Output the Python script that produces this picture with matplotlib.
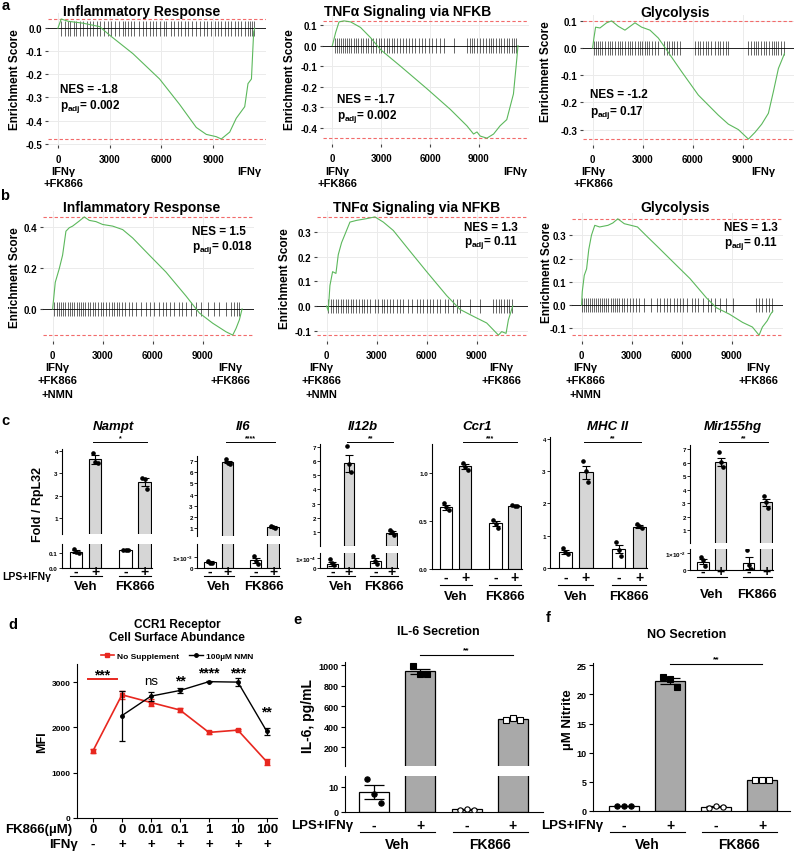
import matplotlib.pyplot as plt
from matplotlib.transforms import blended_transform_factory

plt.rcParams['font.family'] = ['Liberation Sans', 'DejaVu Sans']
plt.rcParams['font.weight'] = 'bold'
plt.rcParams['mathtext.fontset'] = 'custom'
plt.rcParams['mathtext.rm'] = 'Liberation Sans:bold'
plt.rcParams['mathtext.bf'] = 'Liberation Sans:bold'
plt.rcParams['mathtext.it'] = 'Liberation Sans:italic:bold'

# ---- a / b : GSEA running enrichment score ----
a1_rank = [0, 190, 600, 1450, 2420, 3000, 4350, 5900, 7060, 8030, 8610, 9190, 9480,
           9970, 10350, 10840, 11030, 11230, 11360, 11420]
a1_es = [0, 0.04, 0.03, 0.022, 0.007, -0.03, -0.11, -0.22, -0.33, -0.43, -0.46, -0.47,
         -0.48, -0.45, -0.39, -0.34, -0.24, -0.22, -0.015, 0.0]
a1_hits = [195, 390, 580, 715, 910, 1025, 1260, 1450, 1685, 1840, 2030, 2265, 2420, 2650,
           2900, 3100, 3290, 3540, 3775, 3870, 4065, 4255, 4390, 4700, 4935, 5130, 5360,
           5515, 5710, 5900, 6135, 6290, 6580, 6735, 6965, 7160, 7350, 7550, 7800, 8030,
           8225, 8455, 8650, 8900, 9095, 9290, 9480, 9675, 9870, 10060, 10255, 10450,
           10640, 10835, 11030, 11165, 11280, 11360]

a2_rank = [0, 200, 410, 715, 1120, 1730, 2350, 2960, 4180, 5810, 7240, 8260, 8670, 8880,
           9080, 9490, 9900, 10300, 10710, 11120, 11320, 11400]
a2_es = [0, 0.063, 0.115, 0.12, 0.115, 0.088, 0.038, -0.02, -0.10, -0.21, -0.31, -0.39,
         -0.43, -0.42, -0.44, -0.45, -0.43, -0.39, -0.36, -0.235, -0.07, 0.0]
a2_hits = [143, 265, 388, 510, 632, 755, 877, 1020, 1163, 1326, 1448, 1571, 1734, 1897,
           2060, 2183, 2346, 2509, 2672, 2856, 2999, 3162, 3325, 3468, 3672, 3815, 3978,
           4182, 4345, 4508, 4692, 4896, 5100, 5304, 5508, 5712, 5916, 6120, 6385, 6630,
           6875, 7446, 8262, 8425, 8568, 8711, 8874, 9078, 9241, 9404, 9588, 9731, 9894,
           10057, 10220, 10384, 10547, 10710, 10873, 11016, 11159, 11281]

a3_rank = [0, 80, 180, 440, 840, 1140, 1540, 1940, 2540, 2940, 3440, 3940, 4340, 5340,
           6340, 7540, 8140, 8740, 9340, 9740, 10140, 10540, 10840, 11140, 11440, 11500]
a3_es = [0, 0.037, 0.077, 0.074, 0.093, 0.1, 0.08, 0.066, 0.093, 0.077, 0.066, 0.037,
         0.002, -0.087, -0.173, -0.247, -0.28, -0.30, -0.335, -0.31, -0.28, -0.24, -0.16,
         -0.075, -0.03, -0.02]
a3_hits = [60, 180, 300, 440, 580, 740, 900, 1040, 1180, 1340, 1500, 1640, 1780, 1940,
           2100, 2240, 2380, 2540, 2700, 2840, 2980, 3140, 3260, 3380, 3540, 3740, 3940,
           4300, 4440, 4580, 4740, 4900, 5060, 5240, 6140, 6300, 6460, 6620, 6780, 6940,
           7100, 7340, 7500, 7660, 7820, 7980, 8140, 9340, 9500, 9660, 9820, 9940, 10100,
           10260, 10420, 10580, 10740, 10860, 10980, 11140, 11300, 11500]

b1_rank = [0, 60, 160, 400, 600, 800, 1000, 1200, 1600, 1900, 2200, 2600, 3000, 3600,
           4200, 4800, 5800, 6800, 8000, 8800, 9600, 10400, 10800, 11000, 11200, 11360]
b1_es = [0, 0.047, 0.13, 0.197, 0.263, 0.38, 0.397, 0.405, 0.43, 0.45, 0.433, 0.427,
         0.413, 0.405, 0.388, 0.347, 0.263, 0.18, 0.063, -0.02, -0.07, -0.112, -0.128,
         -0.095, -0.053, 0.0]
b1_hits = [100, 240, 400, 520, 640, 760, 900, 1040, 1160, 1300, 1440, 1560, 1700, 1840,
           1960, 2100, 2240, 2400, 2560, 2700, 2900, 3040, 3200, 3400, 3560, 3700, 3840,
           4000, 4160, 4360, 4560, 4760, 5000, 5300, 5600, 5840, 6100, 6360, 6600, 6800,
           7040, 7300, 7560, 7760, 8000, 8300, 8600, 8900, 9300, 9700, 10000, 10400,
           10700, 10900, 11040, 11200]

b2_rank = [0, 100, 200, 360, 560, 700, 900, 1100, 1400, 1800, 2400, 2900, 3400, 4000,
           5000, 6000, 7200, 8000, 8800, 9600, 10000, 10300, 10500, 10760, 10900, 11160]
b2_es = [0, -0.02, 0.083, 0.139, 0.132, 0.208, 0.257, 0.29, 0.34, 0.347, 0.354, 0.361,
         0.34, 0.306, 0.222, 0.139, 0.042, -0.014, -0.042, -0.069, -0.097, -0.118,
         -0.104, -0.111, -0.056, 0.0]
b2_hits = [100, 240, 400, 560, 700, 840, 1000, 1160, 1300, 1440, 1600, 1760, 1920, 2100,
           2240, 2400, 2600, 2900, 3100, 3300, 3440, 3600, 3800, 4000, 4200, 4400, 4600,
           4900, 5100, 5400, 5600, 5800, 6000, 6200, 6400, 6600, 6800, 7100, 7300, 7600,
           7800, 8000, 8600, 9200, 10000, 10160, 10320, 10480, 10640, 10800, 10960, 11120]

b3_rank = [0, 40, 160, 300, 430, 590, 790, 1080, 1580, 1870, 2170, 2560, 2960, 3350,
           3940, 4530, 5520, 6500, 7490, 8080, 8870, 9650, 10240, 10640, 10840, 11130,
           11330, 11470]
b3_es = [0, 0.058, 0.128, 0.156, 0.239, 0.30, 0.343, 0.336, 0.343, 0.353, 0.371, 0.35,
         0.343, 0.336, 0.294, 0.253, 0.183, 0.114, 0.031, -0.011, -0.039, -0.074, -0.094,
         -0.129, -0.094, -0.067, -0.039, -0.025]
b3_hits = [40, 160, 275, 395, 510, 630, 750, 865, 985, 1100, 1220, 1340, 1460, 1575,
           1735, 1870, 2010, 2130, 2265, 2405, 2560, 2720, 2875, 3055, 3250, 3450, 3745,
           4140, 4530, 4730, 4925, 5120, 5320, 5515, 5715, 5910, 6105, 6345, 6600, 6795,
           6995, 7290, 7585, 7780, 7980, 8275, 8670, 9060, 10440, 10640, 10835, 11030,
           11230, 11425]

gsea_titles = ['Inflammatory Response', 'TNFα Signaling via NFKB', 'Glycolysis'] * 2
gsea_nes = ['-1.8', '-1.7', '-1.2', '1.5', '1.3', '1.3']
gsea_padj = ['0.002', '0.002', '0.17', '0.018', '0.11', '0.11']

# ---- c : qPCR, order Veh-, Veh+, FK866-, FK866+ ----
c_genes = ['Nampt', 'Il6', 'Il12b', 'Ccr1', 'MHC II', 'Mir155hg']
c_mean = [[0.11, 3.62, 0.12, 2.62],
          [0.00055, 6.9, 0.0007, 1.1],
          [0.000042, 5.85, 0.000074, 0.95],
          [0.64, 1.07, 0.475, 0.66],
          [0.49, 2.97, 0.6, 1.28],
          [0.0049, 6.07, 0.0041, 3.05]]
c_sem = [[0.01, 0.2, 0.004, 0.17],
         [0.00005, 0.12, 0.0002, 0.06],
         [0.00002, 0.6, 0.000025, 0.1],
         [0.03, 0.025, 0.025, 0.008],
         [0.06, 0.2, 0.12, 0.04],
         [0.0015, 0.3, 0.0035, 0.25]]
c_pts = [[[0.125, 0.105, 0.1], [3.9, 3.5, 3.45], [0.12, 0.118, 0.122], [2.8, 2.75, 2.3]],
         [[0.00065, 0.0005, 0.00047], [7.2, 6.8, 6.75], [0.0011, 0.0006, 0.0004], [1.2, 1.07, 1.02]],
         [[0.00009, 0.000048, 0.000026], [7.05, 5.8, 5.2], [0.000123, 0.000068, 0.000042], [1.15, 1.0, 0.8]],
         [[0.69, 0.645, 0.61], [1.10, 1.06, 1.03], [0.51, 0.47, 0.43], [0.67, 0.66, 0.655]],
         [[0.63, 0.49, 0.44], [3.31, 3.0, 2.66], [0.8, 0.57, 0.36], [1.37, 1.3, 1.25]],
         [[0.0075, 0.006, 0.0025], [6.8, 6.07, 5.7], [0.0122, 0.0031, 0.0006], [3.5, 3.05, 2.6]]]
c_sig = ['*', '****', '**', '***', '**', '**']

# ---- d : CCR1 MFI ----
d_conc = ['0', '0', '0.01', '0.1', '1', '10', '100']
d_ifn = ['-', '+', '+', '+', '+', '+', '+']
d_none_mean = [1480, 2720, 2550, 2385, 1890, 1940, 1240]
d_none_sem = [40, 90, 80, 50, 25, 25, 70]
d_nmn_mean = [2260, 2690, 2815, 3010, 3000, 1910]   # FK866 conditions (IFNγ +)
d_nmn_sem = [550, 100, 60, 15, 95, 80]
d_sig = ['ns', '**', '****', '***', '**']

# ---- e / f : secretion, order Veh-, Veh+, FK866-, FK866+ ----
e_mean = [8.1, 938, 1.1, 472]
e_sem = [2.8, 26, 0.2, 7]
e_pts = [[13.3, 7.4, 3.6], [990, 915, 910], [1.0, 1.4, 0.9], [465, 487, 465]]
f_mean = [0.88, 22.3, 0.72, 5.3]
f_sem = [0.03, 0.55, 0.07, 0.05]
f_pts = [[0.9, 0.92, 0.88], [23.0, 22.6, 21.3], [0.6, 0.8, 0.75], [5.3, 5.3, 5.3]]

stim = ['-', '+', '-', '+']
groups = ['Veh', 'FK866']

W, H = 796, 854
fig = plt.figure(figsize=(W / 100, H / 100), dpi=100)


def px_axes(l, t, r, b):
    return fig.add_axes([l / W, 1 - b / H, (r - l) / W, (b - t) / H])


def fy(y):
    return 1 - y / H


def ftext(x, y, s, size=9, **kw):
    kw.setdefault('ha', 'center')
    kw.setdefault('va', 'center')
    kw.setdefault('fontweight', 'bold')
    fig.text(x / W, fy(y), s, fontsize=size, **kw)


def in_view(ax, xs_, ys_):
    lo, hi = ax.get_ylim()
    keep = [(x, y) for x, y in zip(xs_, ys_) if lo <= y <= hi]
    return [k[0] for k in keep], [k[1] for k in keep]


# panel letters
for s, x, y in [('a', 6, 6), ('b', 5, 196), ('c', 5, 421), ('d', 13, 625), ('e', 298, 620), ('f', 548, 618)]:
    ftext(x, y, s, size=10.5)

# ---------------- a / b ----------------
gsea_sets = [(a1_rank, a1_es, a1_hits), (a2_rank, a2_es, a2_hits), (a3_rank, a3_es, a3_hits),
             (b1_rank, b1_es, b1_hits), (b2_rank, b2_es, b2_hits), (b3_rank, b3_es, b3_hits)]
gsea_box = [(48, 14, 266, 146), (323, 16, 529, 145), (583, 16, 794, 146),
            (43, 212, 254, 342), (317, 212, 528, 342), (572, 214, 783, 342)]
gsea_yticks = [[-0.5, -0.4, -0.3, -0.2, -0.1, 0.0], [-0.4, -0.3, -0.2, -0.1, 0.0, 0.1],
               [-0.3, -0.2, -0.1, 0.0, 0.1], [0.0, 0.2, 0.4],
               [-0.1, 0.0, 0.1, 0.2, 0.3], [-0.1, 0.0, 0.1, 0.2, 0.3]]
nes_pos = [(116, -0.262, -0.335), (306, -0.262, -0.342), (-180, -0.17, -0.232),
           (8340, 0.38, 0.305), (8220, 0.32, 0.26), (8520, 0.337, 0.27)]
title_xy = [(142, 12), (408, 12), (675, 13), (142, 208), (417, 208), (675, 208)]
ylab_xy = [(15, 80), (290, 80), (546, 72), (15, 278), (285, 279), (547, 273)]
left_lab = [('IFNγ\n+FK866', 63), ('IFNγ\n+FK866', 337), ('IFNγ\n+FK866', 593),
            ('IFNγ\n+FK866\n+NMN', 57), ('IFNγ\n+FK866\n+NMN', 321), ('IFNγ\n+FK866\n+NMN', 585)]
right_lab = [('IFNγ', 249), ('IFNγ', 515), ('IFNγ', 763),
             ('IFNγ\n+FK866', 230), ('IFNγ\n+FK866', 501), ('IFNγ\n+FK866', 758)]

for i, (rank, es, hits) in enumerate(gsea_sets):
    ax = px_axes(*gsea_box[i])
    lo, hi = min(es), max(es)
    span = hi - lo
    ax.set_xlim(-575, 12075)
    ax.set_ylim(lo - 0.05 * span, hi + 0.05 * span)
    for sp in ax.spines.values():
        sp.set_visible(False)
    ax.grid(True, color='#ebebeb', lw=0.7)
    ax.set_axisbelow(True)
    ax.set_xticks([0, 3000, 6000, 9000])
    ax.set_xticklabels(['0', '3000', '6000', '9000'])
    ax.set_yticks(gsea_yticks[i])
    ax.set_yticklabels([f'{v:.1f}' for v in gsea_yticks[i]])
    ax.tick_params(labelsize=7, length=2, color='#444444', pad=2)
    ax.tick_params(axis='x', pad=4.5)
    ax.axhline(hi, color='#f26b6b', ls=(0, (3, 2)), lw=0.8)
    ax.axhline(lo, color='#f26b6b', ls=(0, (3, 2)), lw=0.8)
    ax.axhline(0, color='black', lw=0.6)
    ax.vlines(hits, -span / 16, span / 16, color='black', alpha=0.6, lw=0.7)
    ax.plot(rank, es, color='#5cb85c', lw=0.8)
    nx, ny1, ny2 = nes_pos[i]
    ax.text(nx, ny1, f'NES = {gsea_nes[i]}', fontsize=8.5, fontweight='bold', va='center')
    ax.text(nx, ny2, r'$\mathbf{p}_{\mathbf{adj}}$= ' + gsea_padj[i], fontsize=8.5,
            fontweight='bold', va='center')
    ftext(*title_xy[i], gsea_titles[i], size=10)
    ftext(*ylab_xy[i], 'Enrichment Score', size=8.5, rotation=90)
    y0, dy = (172, 12) if i < 3 else (368, 13.5)
    for lab, x in (left_lab[i], right_lab[i]):
        for k, line in enumerate(lab.split('\n')):
            ftext(x, y0 + k * dy, line, size=8)

# ---------------- c ----------------
xs = [0, 1, 2.6, 3.6]
c_face = ['white', '#d6d6d6', 'white', '#d6d6d6']
c_box = [(62, 19, (450, 535, 0.28, 4.09), (545, 569, 0.16)),
         (197, 17.5, (457, 537, 0.29, 7.45), (545, 569, 0.0022)),
         (320, 16.5, (445, 547, 0.01, 7.21), (554, 569, 0.00015)),
         (432, 19, (445, 570, 0, 1.3), None),
         (550, 20.5, (438, 569, 0, 4.06), None),
         (690, 17.5, (446, 544, 0.04, 7.3), (550, 571, 0.0125))]
c_up_ticks = [[1, 2, 3, 4], list(range(1, 8)), list(range(1, 8)), [0, 0.5, 1.0],
              [0, 1, 2, 3, 4], list(range(1, 8))]
c_lo_ticks = [([0, 0.1], ['0.0', '0.1']), ([0, 0.001], ['0', r'1×10$^{-3}$']),
              ([0, 0.0001], ['0', r'1×10$^{-4}$']), None, None,
              ([0, 0.01], ['0', r'1×10$^{-2}$'])]
c_rows = [(572, 577, 587)] * 3 + [(578, 586, 597)] * 2 + [(572, 578, 595)]
c_title_x = [113, 243, 363, 477, 608, 733]
offs = [-0.12, 0, 0.12]


def c_bars(ax, g, upper_only):
    lo = ax.get_ylim()[0]
    idx = [k for k in range(4) if not upper_only or c_mean[g][k] > lo]
    bx = [xs[k] for k in idx]
    bm = [c_mean[g][k] for k in idx]
    ax.bar(bx, bm, width=0.65, color=[c_face[k] for k in idx], edgecolor='black', lw=0.8,
           zorder=2)
    ax.errorbar(bx, bm, yerr=[c_sem[g][k] for k in idx], fmt='none', ecolor='black',
                elinewidth=0.8, capsize=3, capthick=0.8, zorder=3)
    for k in idx:
        px, py = in_view(ax, [xs[k] + o for o in offs], c_pts[g][k])
        ax.plot(px, py, 'o', color='black', ms=2.3, zorder=4)


for g in range(6):
    left, unit, up, low = c_box[g]
    right = left + 4.75 * unit
    axes = []
    ax_u = px_axes(left, up[0], right, up[1])
    ax_u.set_ylim(up[2], up[3])
    ax_u.set_yticks(c_up_ticks[g])
    if g == 3:
        ax_u.set_yticklabels(['0.0', '0.5', '1.0'])
    axes.append(ax_u)
    if low is not None:
        ax_l = px_axes(left, low[0], right, low[1])
        ax_l.set_ylim(0, low[2])
        ax_l.set_yticks(c_lo_ticks[g][0])
        ax_l.set_yticklabels(c_lo_ticks[g][1])
        axes.append(ax_l)
        ax_u.spines['bottom'].set_visible(False)
    for ax in axes:
        ax.set_xlim(-0.75, 4.0)
        ax.set_xticks([])
        ax.spines['top'].set_visible(False)
        ax.spines['right'].set_visible(False)
        ax.tick_params(labelsize=4.5, length=2, width=0.6, pad=1)
        c_bars(ax, g, ax is ax_u and low is not None)
    bottom = axes[-1]
    tr = blended_transform_factory(bottom.transData, fig.transFigure)
    pm_y, line_y, grp_y = c_rows[g]
    for x, s in zip(xs, stim):
        bottom.text(x, fy(pm_y), s, transform=tr, ha='center', va='center', fontsize=10)
    for k, gname in enumerate(groups):
        x0, x1 = xs[2 * k], xs[2 * k + 1]
        bottom.plot([x0 - 0.35, x1 + 0.35], [fy(line_y)] * 2, transform=tr, color='black',
                    lw=0.8, clip_on=False)
        bottom.text((x0 + x1) / 2, fy(grp_y), gname, transform=tr, ha='center', va='center',
                    fontsize=9.5)
    trt = blended_transform_factory(ax_u.transData, fig.transFigure)
    ax_u.plot([0.9, 3.7], [fy(443)] * 2, transform=trt, color='black', lw=0.7, clip_on=False)
    ax_u.text(2.3, fy(439), c_sig[g], transform=trt, ha='center', va='center', fontsize=5)
    ftext(c_title_x[g], 427, c_genes[g], size=9.5, fontstyle='italic')

ftext(2, 577, 'LPS+IFNγ', size=7.5, ha='left')
ftext(38, 505, 'Fold / RpL32', size=9, rotation=90)

# ---------------- d ----------------
red = '#e8271f'
ax = px_axes(77, 665, 277, 819)
dx = list(range(len(d_conc)))
ax.errorbar(dx, d_none_mean, yerr=d_none_sem, fmt='none', ecolor=red, elinewidth=1,
            capsize=2, capthick=1)
l1, = ax.plot(dx, d_none_mean, '-s', color=red, ms=3.5, lw=1.2, label='No Supplement')
ax.errorbar(dx[1:], d_nmn_mean, yerr=d_nmn_sem, fmt='none', ecolor='black', elinewidth=0.9,
            capsize=2, capthick=0.9)
l2, = ax.plot(dx[1:], d_nmn_mean, '-o', color='black', ms=2.5, lw=1.0, label='100µM NMN')
ax.set_xlim(-0.55, 6.35)
ax.set_ylim(0, 3400)
ax.set_yticks([0, 1000, 2000, 3000])
ax.set_xticks(dx)
ax.set_xticklabels([])
ax.spines['top'].set_visible(False)
ax.spines['right'].set_visible(False)
ax.tick_params(labelsize=6, length=3, width=0.8, pad=1.5)
ax.plot([-0.17, 0.83], [3060, 3060], color=red, lw=1.4, clip_on=False)
ax.text(0.33, 3160, '***', ha='center', va='center', fontsize=10)
for x, s, y in zip(dx[2:], d_sig, [3030, 3040, 3220, 3220, 2360]):
    ax.text(x, y, s, ha='center', va='center', fontsize=9.5 if s == 'ns' else 10,
            fontweight='normal' if s == 'ns' else 'bold')
ax.legend(handles=[l1, l2], ncol=2, loc='center', bbox_to_anchor=(177 / W, fy(657)),
          bbox_transform=fig.transFigure, frameon=False, prop={'weight': 'bold', 'size': 6},
          handlelength=1.6, columnspacing=1.2, handletextpad=0.4)
trd = blended_transform_factory(ax.transData, fig.transFigure)
for x, c, s in zip(dx, d_conc, d_ifn):
    ax.text(x, fy(830), c, transform=trd, ha='center', va='center', fontsize=9.5)
    ax.text(x, fy(845), s, transform=trd, ha='center', va='center', fontsize=9.5)
ftext(5, 830, 'FK866(µM)', size=9.5, ha='left')
ftext(78, 845, 'IFNγ', size=9.5, ha='right')
ftext(177, 625, 'CCR1 Receptor', size=8.5)
ftext(177, 638, 'Cell Surface Abundance', size=8.5)
ftext(42, 742, 'MFI', size=9, rotation=90)

# ---------------- e / f ----------------
ef_face = ['white', '#a9a9a9', 'white', '#a9a9a9']
ef_mark = ['o', 's', 'o', 's']
ef_fill = ['black', 'black', 'white', 'white']
ex = [0, 1, 2, 3]


def ef_bars(ax, mean, sem, pts, upper_only=False):
    lo = ax.get_ylim()[0]
    idx = [k for k in range(4) if not upper_only or mean[k] > lo]
    bx = [ex[k] for k in idx]
    bm = [mean[k] for k in idx]
    ax.bar(bx, bm, width=0.65, color=[ef_face[k] for k in idx], edgecolor='black', lw=0.9,
           zorder=2)
    ax.errorbar(bx, bm, yerr=[sem[k] for k in idx], fmt='none', ecolor='black',
                elinewidth=0.9, capsize=7, capthick=0.9, zorder=3)
    for k in idx:
        px, py = in_view(ax, [ex[k] + o for o in [-0.15, 0, 0.15]], pts[k])
        ax.plot(px, py, ef_mark[k], mfc=ef_fill[k], mec='black', mew=0.8, ms=3.8, ls='none',
                zorder=4)


def ef_style(ax, xlim):
    ax.set_xlim(*xlim)
    ax.set_xticks([])
    ax.spines['top'].set_visible(False)
    ax.spines['right'].set_visible(False)
    ax.tick_params(labelsize=6.5, length=3, width=0.8, pad=1.5)


def ef_labels(ax, x_lps, line_y=833):
    tr = blended_transform_factory(ax.transData, fig.transFigure)
    for x, s in zip(ex, stim):
        ax.text(x, fy(826), s, transform=tr, ha='center', va='center', fontsize=10)
    for k, gname in enumerate(groups):
        x0 = ex[2 * k]
        ax.plot([x0 - 0.3, x0 + 1.32], [fy(line_y)] * 2, transform=tr, color='black',
                lw=0.8, clip_on=False)
        ax.text(x0 + 0.5, fy(845), gname, transform=tr, ha='center', va='center', fontsize=10)
    ftext(x_lps, 826, 'LPS+IFNγ', size=9.5, ha='left')


e_up = px_axes(345, 663, 543, 767)
e_lo = px_axes(345, 777, 543, 813)
e_up.set_ylim(15, 1030)
e_lo.set_ylim(0, 14.4)
for ax in (e_up, e_lo):
    ef_style(ax, (-0.63, 3.65))
ef_bars(e_up, e_mean, e_sem, e_pts, upper_only=True)
ef_bars(e_lo, e_mean, e_sem, e_pts)
e_up.set_yticks([200, 400, 600, 800, 1000])
e_up.spines['bottom'].set_visible(False)
e_lo.set_yticks([0, 10])
ef_labels(e_lo, 291)
tre = blended_transform_factory(e_up.transData, fig.transFigure)
e_up.plot([1, 3], [fy(656)] * 2, transform=tre, color='black', lw=0.8, clip_on=False)
e_up.text(2, fy(651), '**', transform=tre, ha='center', va='center', fontsize=6)
ftext(438, 632, 'IL-6 Secretion', size=9)
ftext(308, 716, 'IL-6, pg/mL', size=10, rotation=90)

f_ax = px_axes(593, 664, 790, 812)
f_ax.set_ylim(0, 25.4)
ef_style(f_ax, (-0.67, 3.6))
ef_bars(f_ax, f_mean, f_sem, f_pts)
f_ax.set_yticks([0, 5, 10, 15, 20, 25])
ef_labels(f_ax, 541)
trf = blended_transform_factory(f_ax.transData, fig.transFigure)
f_ax.plot([1, 3], [fy(665)] * 2, transform=trf, color='black', lw=0.8, clip_on=False)
f_ax.text(2, fy(660), '**', transform=trf, ha='center', va='center', fontsize=6)
ftext(687, 635, 'NO Secretion', size=9)
ftext(568, 720, 'µM Nitrite', size=9.5, rotation=90)

fig.savefig('out.png', dpi=100)
